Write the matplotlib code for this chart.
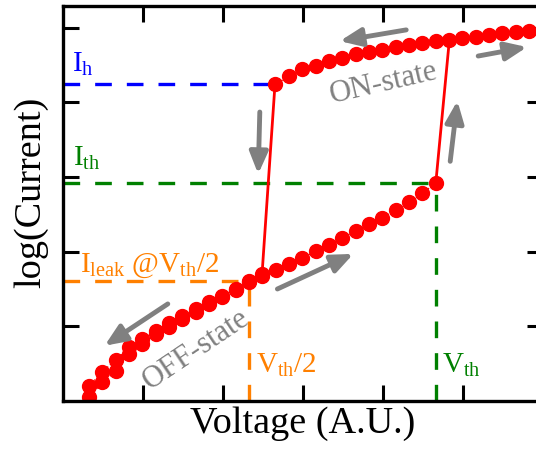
import matplotlib
matplotlib.use("Agg")
import matplotlib.pyplot as plt

plt.rcParams.update({
    "font.family": "Liberation Serif",
    "mathtext.fontset": "custom",
    "mathtext.rm": "Liberation Serif",
    "mathtext.it": "Liberation Serif:italic",
})

# forward sweep on the OFF branch (bottom-left up to V_th)
off_fwd_v = [0.33, 0.49, 0.66, 0.83, 0.99, 1.16, 1.33, 1.49, 1.66, 1.83, 1.99, 2.16, 2.33, 2.49,
             2.66, 2.83, 2.99, 3.16, 3.33, 3.49, 3.66, 3.83, 3.99, 4.16, 4.33, 4.49, 4.66]
off_fwd_i = [0.05, 0.25, 0.40, 0.63, 0.76, 0.90, 0.99, 1.10, 1.19, 1.30, 1.39, 1.49, 1.59, 1.67,
             1.75, 1.83, 1.91, 2.01, 2.09, 2.18, 2.28, 2.37, 2.45, 2.56, 2.66, 2.78, 2.92]
# return sweep on the OFF branch (after switching off)
off_ret_v = [0.33, 0.49, 0.66, 0.83, 0.99, 1.16, 1.33, 1.49, 1.66, 1.83, 1.99, 2.16, 2.33, 2.49]
off_ret_i = [0.20, 0.39, 0.55, 0.72, 0.83, 0.94, 1.04, 1.14, 1.23, 1.33, 1.41, 1.50, 1.61, 1.70]
# ON branch
on_v = [2.65, 2.83, 2.99, 3.16, 3.33, 3.49, 3.66, 3.83, 3.99, 4.16,
        4.33, 4.49, 4.66, 4.83, 4.99, 5.16, 5.33, 5.49, 5.66, 5.83]
on_i = [4.24, 4.35, 4.44, 4.49, 4.55, 4.60, 4.65, 4.68, 4.70, 4.74,
        4.77, 4.79, 4.82, 4.84, 4.86, 4.88, 4.90, 4.93, 4.94, 4.96]

V_TH, V_HALF = 4.66, 2.33
I_H, I_TH, I_LEAK = 4.24, 2.92, 1.61
SW_OFF = ([2.65, 2.49], [4.24, 1.73])   # ON -> OFF switch
SW_ON = ([4.66, 4.83], [2.92, 4.84])    # OFF -> ON switch

# (tail, head) of the grey sweep-direction arrows
ARROWS = [((2.46, 3.87), (2.44, 3.04)),
          ((4.84, 3.21), (4.93, 4.02)),
          ((4.29, 4.97), (3.46, 4.82)),
          ((5.19, 4.62), (5.80, 4.74)),
          ((2.68, 1.50), (3.63, 1.97)),
          ((1.31, 1.30), (0.52, 0.74))]

fig = plt.figure(figsize=(5.36, 4.52), dpi=100)
ax = fig.add_axes([63 / 536, 50 / 452, 480 / 536, 395 / 452])

dash = dict(lw=2.4, dashes=(5, 4.5))
ax.plot([0, on_v[0]], [I_H, I_H], color="blue", **dash)
ax.plot([0, V_TH], [I_TH, I_TH], color="green", **dash)
ax.plot([V_TH, V_TH], [0, I_TH], color="green", **dash)
ax.plot([0, V_HALF], [I_LEAK, I_LEAK], color="#ff8000", **dash)
ax.plot([V_HALF, V_HALF], [0, I_LEAK], color="#ff8000", **dash)

ax.plot(*SW_OFF, color="red", lw=2)
ax.plot(*SW_ON, color="red", lw=2)
mk = dict(color="red", marker="o", ms=10, ls=":", lw=1)
ax.plot(off_ret_v, off_ret_i, **mk)
ax.plot(off_fwd_v, off_fwd_i, **mk)
ax.plot(on_v, on_i, **mk)

for tail, head in ARROWS:
    ax.annotate("", xy=head, xytext=tail,
                arrowprops=dict(arrowstyle="-|>,head_length=1.3,head_width=0.55",
                                color="gray", lw=3.5, shrinkA=0, shrinkB=0))

fs = 21
ax.text(0.11, 4.42, r"$\mathrm{I_h}$", color="blue", fontsize=fs)
ax.text(0.12, 3.16, r"$\mathrm{I_{th}}$", color="green", fontsize=fs)
ax.text(0.21, 1.74, r"$\mathrm{I_{leak}\ @V_{th}/2}$", color="#ff8000", fontsize=fs)
ax.text(2.41, 0.39, r"$\mathrm{V_{th}/2}$", color="#ff8000", fontsize=fs)
ax.text(4.74, 0.39, r"$\mathrm{V_{th}}$", color="green", fontsize=fs)
ax.text(4.01, 4.27, "ON-state", color="gray", fontsize=22, rotation=13,
        ha="center", va="center", rotation_mode="anchor")
ax.text(1.66, 0.70, "OFF-state", color="gray", fontsize=22, rotation=34,
        ha="center", va="center", rotation_mode="anchor")

ax.set_xlim(0, 6)
ax.set_ylim(0, 5.29)
ax.set_xticks([1, 2, 3, 4, 5])
ax.set_yticks([1, 2, 3, 4, 5])
ax.tick_params(direction="in", length=11.5, width=2.2, top=True, right=True,
               labelbottom=False, labelleft=False)
for s in ax.spines.values():
    s.set_linewidth(2.4)
ax.set_xlabel("Voltage (A.U.)", fontsize=27.5, labelpad=3)
ax.set_ylabel("log(Current)", fontsize=27.5)
ax.yaxis.set_label_coords(-0.031, 0.53)

fig.savefig("out.png", dpi=100)
